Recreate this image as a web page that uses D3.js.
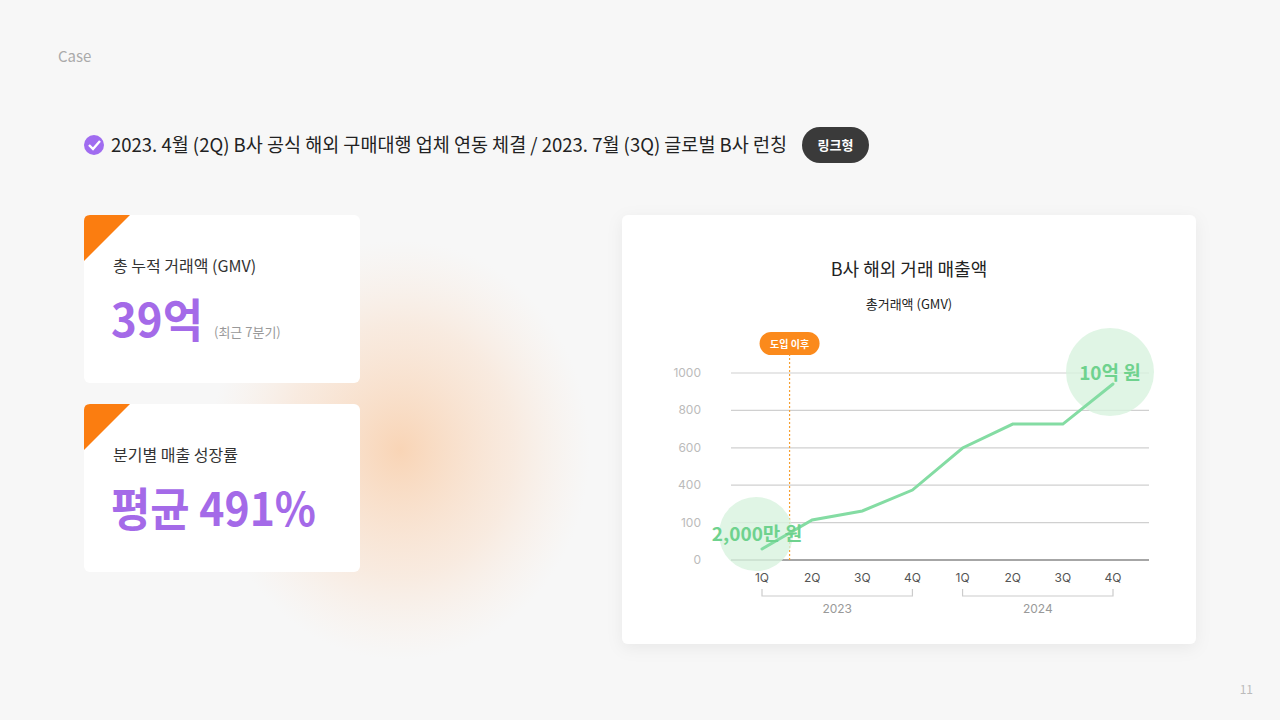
<!DOCTYPE html>
<html><head><meta charset="utf-8">
<script src="https://cdn.jsdelivr.net/npm/d3@7"></script>
<style>body{margin:0;background:#f7f7f7;font-family:'Noto Sans CJK KR','Noto Sans',sans-serif}</style>
</head><body><svg id="c" width="1280" height="720"></svg>
<script>
const quarters=["1Q","2Q","3Q","4Q","1Q ","2Q ","3Q ","4Q "];
const gmv=[59,214,262,374,599,727,727,941];
const yTicks=[0,200,400,600,800,1000];
const yTickLabels=["0","100","400","600","800","1000"];
const years=["2023","2024"];

const svg=d3.select("#c");
const defs=svg.append("defs");
const rg=defs.append("radialGradient").attr("id","glow");
rg.append("stop").attr("offset","0%").attr("stop-color","#f9c9a0").attr("stop-opacity",0.75);
rg.append("stop").attr("offset","60%").attr("stop-color","#fad8bd").attr("stop-opacity",0.4);
rg.append("stop").attr("offset","100%").attr("stop-color","#fbe3d0").attr("stop-opacity",0);
const sh=defs.append("filter").attr("id","sh").attr("x","-10%").attr("y","-10%").attr("width","120%").attr("height","130%");
sh.append("feDropShadow").attr("dx",0).attr("dy",4).attr("stdDeviation",8).attr("flood-color","#000").attr("flood-opacity",0.06);

svg.append("ellipse").attr("cx",400).attr("cy",450).attr("rx",190).attr("ry",210).attr("fill","url(#glow)");
svg.append("text").attr("x",58).attr("y",62).text("Case").attr("font-size",15).attr("fill","#aaa");
svg.append("text").attr("x",1253).attr("y",694).attr("text-anchor","end").text("11").attr("font-size",12).attr("fill","#bbb");

// header
svg.append("circle").attr("cx",94).attr("cy",145).attr("r",10).attr("fill","#a06cf0");
svg.append("path").attr("d","M89,145 l4,4 l7,-8").attr("stroke","#fff").attr("stroke-width",2.4).attr("fill","none");
svg.append("text").attr("x",111).attr("y",152).text("2023. 4월 (2Q) B사 공식 해외 구매대행 업체 연동 체결 / 2023. 7월 (3Q) 글로벌 B사 런칭").attr("font-size",19).attr("fill","#222")
  .attr("textLength",676).attr("lengthAdjust","spacingAndGlyphs");
svg.append("rect").attr("x",802).attr("y",127).attr("width",67).attr("height",36).attr("rx",18).attr("fill","#3a3a3a");
svg.append("text").attr("x",835.5).attr("y",150).attr("text-anchor","middle").text("링크형").attr("font-size",13).attr("font-weight",700).attr("fill","#fff");

// cards
function card(y,label,big,bigLen,small){
  const g=svg.append("g");
  g.append("rect").attr("x",84).attr("y",y).attr("width",276).attr("height",168).attr("rx",6).attr("fill","#fff");
  g.append("path").attr("d",`M84,${y+46} L84,${y+6} Q84,${y} 90,${y} L130,${y} Z`).attr("fill","#fb7d10");
  g.append("text").attr("x",113).attr("y",y+57).text(label).attr("font-size",16).attr("fill","#333");
  g.append("text").attr("x",111).attr("y",y+122).attr("font-size",46).attr("font-weight",700).attr("fill","#a46ae8").text(big)
    .attr("textLength",bigLen).attr("lengthAdjust","spacingAndGlyphs");
  if(small) g.append("text").attr("x",214).attr("y",y+122).text(small).attr("font-size",13).attr("fill","#999");
}
card(215,"총 누적 거래액 (GMV)","39억",92,"(최근 7분기)");
card(404,"분기별 매출 성장률","평균 491%",205,null);

// chart card
svg.append("rect").attr("x",622).attr("y",215).attr("width",574).attr("height",429).attr("rx",6).attr("fill","#fff").attr("filter","url(#sh)");
svg.append("text").attr("x",909).attr("y",276).attr("text-anchor","middle").text("B사 해외 거래 매출액").attr("font-size",18).attr("fill","#222");
svg.append("text").attr("x",909).attr("y",309).attr("text-anchor","middle").text("총거래액 (GMV)").attr("font-size",13).attr("fill","#222");

const x=d3.scalePoint().domain(quarters).range([762,1113]);
const y=d3.scaleLinear().domain([0,1000]).range([560,373]);

const grid=svg.append("g");
yTicks.forEach((t,i)=>{
  grid.append("line").attr("x1",731).attr("x2",1149).attr("y1",y(t)).attr("y2",y(t))
    .attr("stroke",t===0?"#888":"#d0d0d0").attr("stroke-width",t===0?1.4:1.2);
  grid.append("text").attr("x",701).attr("y",y(t)+4).attr("text-anchor","end").text(yTickLabels[i]).attr("font-size",12).attr("fill","#bbb").attr("font-family","Inter,sans-serif");
});
const xa=svg.append("g").attr("transform","translate(0,582)");
quarters.forEach(q=>xa.append("text").attr("x",x(q)).attr("text-anchor","middle").text(q.trim()).attr("font-size",12).attr("fill","#555").attr("font-family","Inter,sans-serif"));
years.forEach((yr,i)=>{
  const a=x(quarters[i*4]),b=x(quarters[i*4+3]);
  svg.append("path").attr("d",`M${a},589 V596 H${b} V589`).attr("fill","none").attr("stroke","#ccc").attr("stroke-width",1.2);
  svg.append("text").attr("x",(a+b)/2).attr("y",613).attr("text-anchor","middle").text(yr).attr("font-size",12).attr("fill","#999").attr("font-family","Inter,sans-serif");
});

// intro marker
const mx=x(quarters[0])+(x(quarters[1])-x(quarters[0]))*0.55;
svg.append("line").attr("x1",mx).attr("x2",mx).attr("y1",354).attr("y2",560).attr("stroke","#f5a033").attr("stroke-dasharray","2,2").attr("stroke-width",1.2);
svg.append("rect").attr("x",mx-30).attr("y",332).attr("width",60).attr("height",23).attr("rx",11.5).attr("fill","#fb8a1c");
svg.append("text").attr("x",mx).attr("y",348).attr("text-anchor","middle").text("도입 이후").attr("font-size",10).attr("font-weight",700).attr("fill","#fff");

// circles
svg.append("circle").attr("cx",756).attr("cy",534).attr("r",37).attr("fill","#d8f2df").attr("opacity",0.8);
svg.append("circle").attr("cx",1110).attr("cy",372).attr("r",44).attr("fill","#d8f2df").attr("opacity",0.8);

svg.append("path").datum(gmv).attr("fill","none").attr("stroke","#84dca3").attr("stroke-width",3).attr("stroke-linecap","round")
  .attr("d",d3.line().x((d,i)=>x(quarters[i])).y(d=>y(d)));

svg.append("text").attr("x",757).attr("y",541).attr("text-anchor","middle").text("2,000만 원").attr("font-size",19).attr("font-weight",700).attr("fill","#6fd28e");
svg.append("text").attr("x",1110).attr("y",380).attr("text-anchor","middle").text("10억 원").attr("font-size",19).attr("font-weight",700).attr("fill","#6fd28e");
</script></body></html>
